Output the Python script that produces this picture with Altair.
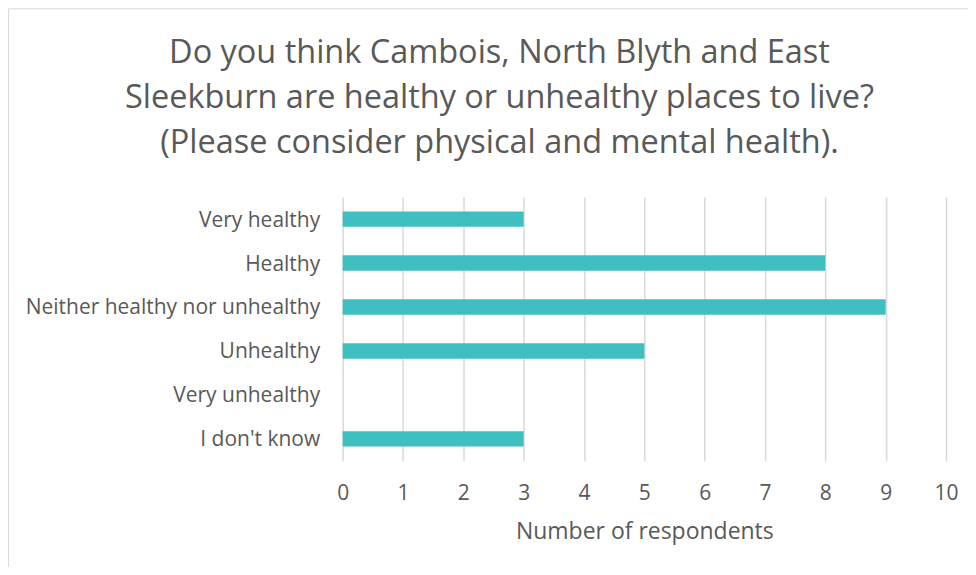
import altair as alt
import pandas as pd

categories = ["Very healthy", "Healthy", "Neither healthy nor unhealthy",
              "Unhealthy", "Very unhealthy", "I don't know"]
counts = [3, 8, 9, 5, 0, 3]
x_ticks = [0, 1, 2, 3, 4, 5, 6, 7, 8, 9, 10]

title_lines = ["Do you think Cambois, North Blyth and East",
               "Sleekburn are healthy or unhealthy places to live?",
               "(Please consider physical and mental health)."]

df = pd.DataFrame({"category": categories, "count": counts})

FONT = "Open Sans"
TXT = "#595959"
GRID = "#d9d9d9"
W, H = 604, 264
PAD = {"left": 335, "top": 189, "right": 22, "bottom": 106}

bars = alt.Chart(df).mark_bar(color="#40BFC1").encode(
    y=alt.Y("category:N", sort=categories,
            scale=alt.Scale(paddingInner=0.65, paddingOuter=0.325),
            axis=alt.Axis(title=None, labelFontSize=21, labelColor=TXT, labelFont=FONT,
                          labelPadding=23, labelOffset=1.5, ticks=False, domain=False,
                          grid=False, labelLimit=400)),
    x=alt.X("count:Q", scale=alt.Scale(domain=[0, 10], nice=False),
            axis=alt.Axis(title="Number of respondents", values=x_ticks, format="d",
                          titleFontSize=23, titleColor=TXT, titleFont=FONT,
                          titleFontWeight="normal", titlePadding=17,
                          labelFontSize=21, labelColor=TXT, labelFont=FONT,
                          labelPadding=22, labelFlush=False, ticks=False, domain=False,
                          grid=True, gridColor=GRID, gridWidth=1.5)),
)

one = alt.Data(values=[{}])
left_border = alt.Chart(one).mark_rule(color=GRID, strokeWidth=1).encode(
    x=alt.value(-PAD["left"] + 0.5), y=alt.value(-PAD["top"] + 0.5),
    y2=alt.value(H + PAD["bottom"]))
top_border = alt.Chart(one).mark_rule(color=GRID, strokeWidth=1).encode(
    y=alt.value(-PAD["top"] + 0.5), x=alt.value(-PAD["left"] + 0.5),
    x2=alt.value(W + PAD["right"]))

chart = alt.layer(left_border, top_border, bars).properties(
    width=W, height=H,
    padding=PAD,
    background="white",
    autosize=alt.AutoSizeParams(type="none"),
    title=alt.TitleParams(text=title_lines, fontSize=32.5, font=FONT, color=TXT,
                          fontWeight="normal", anchor="middle", frame="group",
                          dx=-145, dy=151, lineHeight=45, offset=0),
).configure_view(stroke="transparent", strokeWidth=0)

chart.save("out.html", embed_options={"renderer": "svg", "actions": False})
